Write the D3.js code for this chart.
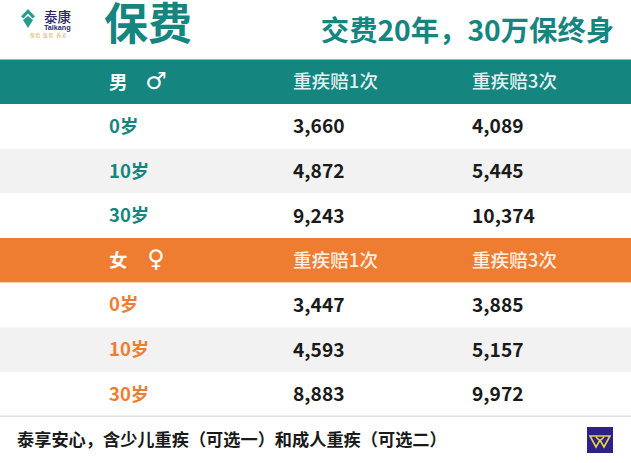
<!DOCTYPE html>
<html><head><meta charset="utf-8">
<script src="https://cdn.jsdelivr.net/npm/d3@7"></script>
<style>html,body{margin:0;padding:0;background:#fff;overflow:hidden}svg{display:block}text{font-family:"Noto Sans CJK SC","Noto Sans",sans-serif}</style>
</head><body><svg id="c" width="631" height="463"></svg>
<script>
const title = "保费";
const subtitle = "交费20年，30万保终身";
const footer = "泰享安心，含少儿重疾（可选一）和成人重疾（可选二）";
const columns = ["重疾赔1次", "重疾赔3次"];
const ages = ["0岁", "10岁", "30岁"];
const maleOnce = [3660, 4872, 9243];
const maleThrice = [4089, 5445, 10374];
const femaleOnce = [3447, 4593, 8883];
const femaleThrice = [3885, 5157, 9972];
const teal = "#14857f", orange = "#ee7d31", dark = "#1a1a1a";

const svg = d3.select("#c");
const fmt = d3.format(",");
const rowKeys = d3.range(8);
const y = d3.scaleBand().domain(rowKeys).range([59.5, 416.5]);
const x = d3.scaleOrdinal().domain(["label", 0, 1]).range([109, 293, 472]);

const groups = [
  {name: "男", sym: "♂", color: teal, start: 0, once: maleOnce, thrice: maleThrice},
  {name: "女", sym: "♀", color: orange, start: 4, once: femaleOnce, thrice: femaleThrice}
];

groups.forEach(g => {
  const hy = y(g.start), bw = y.bandwidth();
  svg.append("rect").attr("x", 0).attr("y", hy).attr("width", 631).attr("height", bw).attr("fill", g.color);
  const mid = hy + bw / 2;
  svg.append("text").attr("x", x("label")).attr("y", mid + 7).attr("font-size", 18.5).attr("font-weight", 700).attr("fill", "#fff").text(g.name);
  svg.append("text").attr("x", 156).attr("y", mid + 7).attr("text-anchor", "middle").attr("font-size", 24)
     .style("font-family", "'DejaVu Sans'").attr("fill", "#fff").text(g.sym);
  columns.forEach((c, i) => {
    svg.append("text").attr("x", x(i)).attr("y", mid + 6.5).attr("font-size", 18.6).attr("font-weight", 500).attr("fill", "#fff").attr("fill-opacity", .9).text(c);
  });
  ages.forEach((a, i) => {
    const ry = y(g.start + 1 + i), m = ry + bw / 2;
    svg.append("rect").attr("x", 0).attr("y", ry).attr("width", 631).attr("height", bw).attr("fill", i === 1 ? "#f2f2f2" : "#fff");
    svg.append("text").attr("x", x("label")).attr("y", m + 6.5).attr("font-size", 18.5).attr("font-weight", 700).attr("fill", g.color).text(a);
    svg.append("text").attr("x", x(0)).attr("y", m + 7).attr("font-size", 19.2).attr("font-weight", 600).attr("fill", dark).text(fmt(g.once[i]));
    svg.append("text").attr("x", x(1)).attr("y", m + 7).attr("font-size", 19.2).attr("font-weight", 600).attr("fill", dark).text(fmt(g.thrice[i]));
  });
});

// header texts
svg.append("text").attr("x", 104).attr("y", 40).attr("font-size", 44).attr("font-weight", 700).attr("fill", teal).text(title);
svg.append("text").attr("x", 614).attr("y", 41).attr("text-anchor", "end").attr("font-size", 28.3).attr("font-weight", 700).attr("fill", teal).text(subtitle);

// logo
const logo = svg.append("g");
logo.append("path").attr("d", "M28 9 L35 16.5 L32.5 18.5 L28 13.5 L23.5 18.5 L21 16.5 Z").attr("fill", "#2a9a8c");
logo.append("path").attr("d", "M23 20 L28 16 L33 20 L28 28 Z").attr("fill", "#2a9a8c");
logo.append("text").attr("x", 44).attr("y", 22).attr("font-size", 13.5).attr("font-weight", 500).attr("fill", "#2b2a6b").text("泰康");
logo.append("text").attr("x", 44).attr("y", 30).attr("font-size", 7.2).attr("font-weight", 700).attr("fill", "#2b2a6b").style("font-family", "'Liberation Sans'").text("Taikang");
logo.append("text").attr("x", 30).attr("y", 37).attr("font-size", 4.6).attr("letter-spacing", 1).attr("fill", "#e0a060").text("保险  医院  养老");

// footer
svg.append("rect").attr("x", 0).attr("y", 415.5).attr("width", 631).attr("height", 1.5).attr("fill", "#e2e2e2");
svg.append("text").attr("x", 17).attr("y", 446).attr("font-size", 17.2).attr("font-weight", 700).attr("fill", dark).text(footer);
svg.append("rect").attr("x", 587).attr("y", 427).attr("width", 26).attr("height", 26).attr("fill", "#2d2185");
svg.append("path").attr("d", "M590 436 H610 L604 447 L600 440 L596 447 Z M596 437 L599 440 M604 437 L601 440").attr("fill", "none").attr("stroke", "#e6d24a").attr("stroke-width", 1.6);
</script></body></html>
